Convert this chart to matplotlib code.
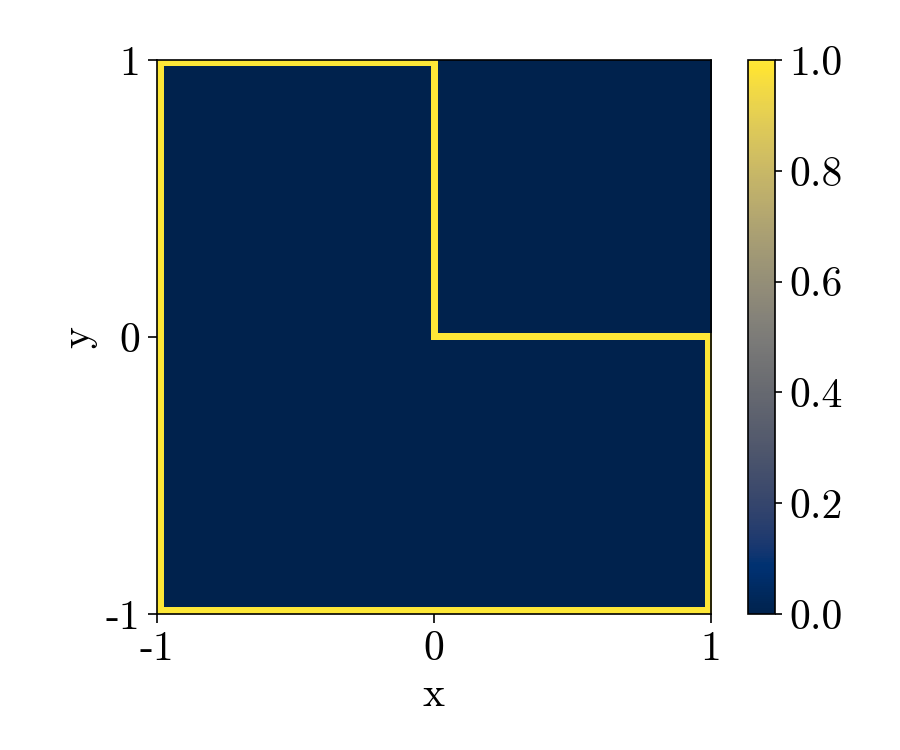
import numpy as np
import matplotlib
matplotlib.use("Agg")
import matplotlib.pyplot as plt

plt.rcParams["font.family"] = "serif"
plt.rcParams["font.serif"] = ["cmr10", "DejaVu Serif"]
plt.rcParams["mathtext.fontset"] = "cm"
plt.rcParams["axes.unicode_minus"] = False
plt.rcParams["font.size"] = 20

# grid of the L-shaped domain, boundary nodes carry value 1
n_points = 81
x_ticks = [-1, 0, 1]
x_tick_labels = ["-1", "0", "1"]
y_ticks = [-1, 0, 1]
y_tick_labels = ["-1", "0", "1"]
cbar_ticks = [0.0, 0.2, 0.4, 0.6, 0.8, 1.0]
cbar_labels = ["0.0", "0.2", "0.4", "0.6", "0.8", "1.0"]

xs = np.linspace(-1, 1, n_points)
X, Y = np.meshgrid(xs, xs)
tol = 1e-9
on_edge = (
    (np.abs(X + 1) < tol)
    | (np.abs(Y + 1) < tol)
    | ((np.abs(X - 1) < tol) & (Y <= tol))
    | ((np.abs(Y) < tol) & (X >= -tol))
    | ((np.abs(X) < tol) & (Y >= -tol))
    | ((np.abs(Y - 1) < tol) & (X <= tol))
)
field = on_edge.astype(float)

fig = plt.figure(figsize=(6, 5), dpi=150)
ax = fig.add_axes([0.1744, 0.1813, 0.6156, 0.7387])
cax = fig.add_axes([0.8311, 0.1813, 0.03, 0.7387])

im = ax.imshow(field, origin="lower", extent=[-1, 1, -1, 1], cmap="cividis",
               vmin=0, vmax=1, aspect="auto")
ax.set_xticks(x_ticks)
ax.set_xticklabels(x_tick_labels)
ax.set_yticks(y_ticks)
ax.set_yticklabels(y_tick_labels)
ax.tick_params(length=4.5)
ax.set_xlabel("x")
ax.set_ylabel("y")

cb = fig.colorbar(im, cax=cax)
cb.set_ticks(cbar_ticks)
cb.set_ticklabels(cbar_labels)
cb.ax.tick_params(length=3.5)

fig.savefig("out.png", dpi=150)
plt.close(fig)
